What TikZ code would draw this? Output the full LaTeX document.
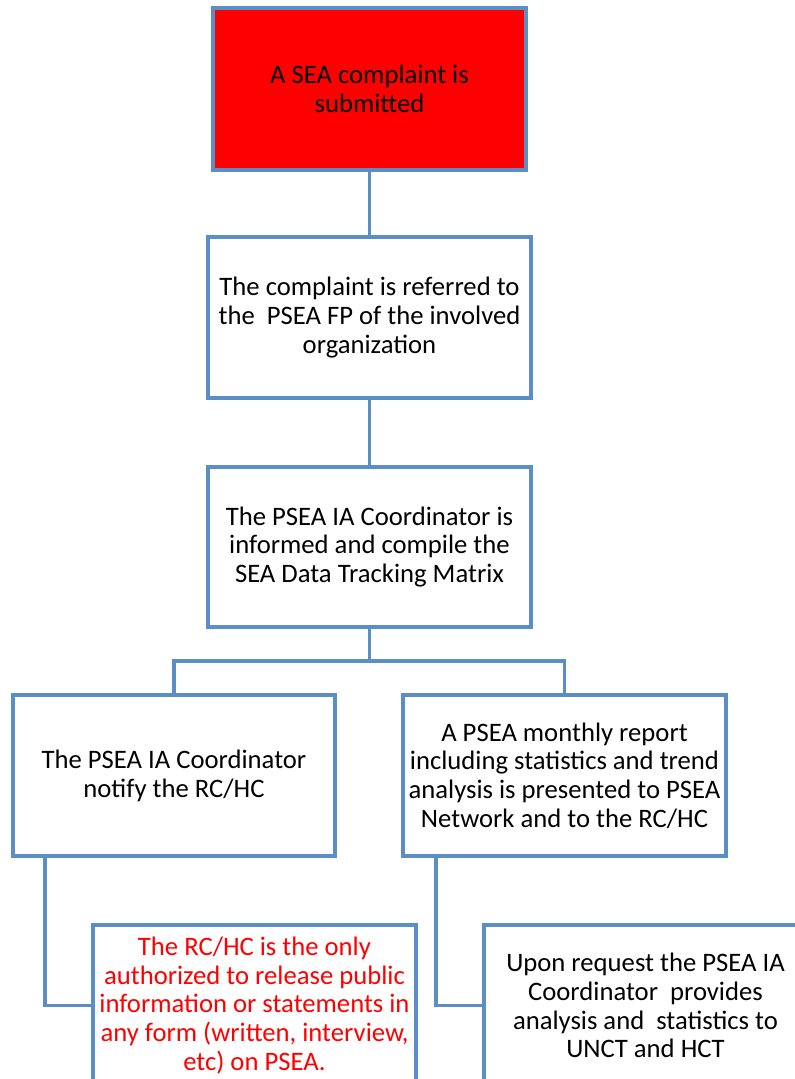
\documentclass[tikz,border=0pt]{standalone}
\usepackage{fontspec}
\setmainfont{Carlito}
\begin{document}
\begin{tikzpicture}[x=0.75pt,y=-0.75pt,
  box/.style={draw=lineblue, line width=2.4pt, align=center, inner sep=0pt,
    font=\fontsize{20}{21.6}\selectfont, minimum height=120.75pt, minimum width=242.25pt},
  conn/.style={draw=lineblue, line width=2.4pt}]
\definecolor{lineblue}{HTML}{5B8DC6}
\definecolor{pured}{HTML}{FF0000}
\useasboundingbox (0,0) rectangle (795,1079);
\node[box, fill=pured, minimum width=234.75pt, minimum height=121.5pt] (b1) at (369.5,89) {A SEA complaint is\\submitted};
\node[box] (b2) at (369.5,317.5) {The complaint is referred to\\the\ \ PSEA FP of the involved\\organization};
\node[box, minimum height=120pt] (b3) at (369.5,547) {The PSEA IA Coordinator is\\informed and compile the\\SEA Data Tracking Matrix};
\node[box, minimum width=241.5pt] (l4) at (174,775.5) {The PSEA IA Coordinator\\notify the RC/HC};
\node[box] (r4) at (564.5,775.5) {A PSEA monthly report\\including statistics and trend\\analysis is presented to PSEA\\Network and to the RC/HC};
\node[box, text=pured] (l5) at (254.5,1005.5) {The RC/HC is the only\\authorized to release public\\information or statements in\\any form (written, interview,\\etc) on PSEA.};
\node[box] (r5) at (645.5,1005.5) {Upon request the PSEA IA\\Coordinator\ \ provides\\analysis and\ \ statistics to\\UNCT and HCT};
\coordinate (j) at (369.5,661);
\coordinate (lt) at (45,856);
\coordinate (rt) at (436,856);
\draw[conn] (b1) -- (b2);
\draw[conn] (b2) -- (b3);
\draw[conn] (b3.south) -- (j);
\draw[conn] (l4.north) -- (l4.north |- j) -- (r4.north |- j) -- (r4.north);
\draw[conn] (lt) |- (l5.west);
\draw[conn] (rt) |- (r5.west);
\end{tikzpicture}
\end{document}
